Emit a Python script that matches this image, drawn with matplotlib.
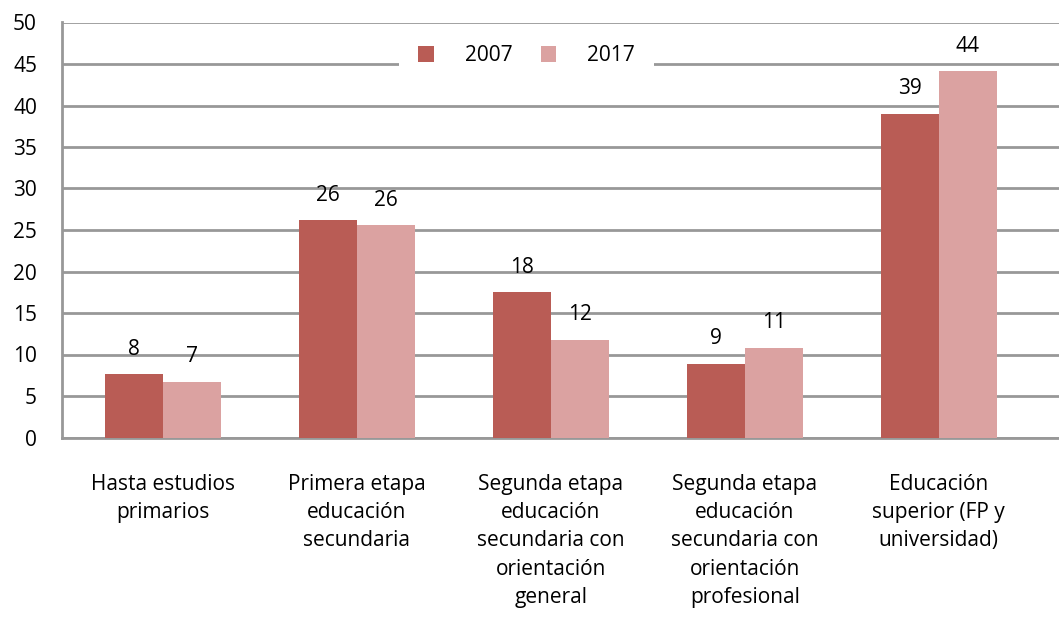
import matplotlib
matplotlib.use("Agg")
import matplotlib.pyplot as plt
import numpy as np

categories = [
    "Hasta estudios\nprimarios",
    "Primera etapa\neducación\nsecundaria",
    "Segunda etapa\neducación\nsecundaria con\norientación\ngeneral",
    "Segunda etapa\neducación\nsecundaria con\norientación\nprofesional",
    "Educación\nsuperior (FP y\nuniversidad)",
]
series_names = ["2007", "2017"]
values_2007 = [7.6, 26.2, 17.5, 8.9, 39.0]
values_2017 = [6.7, 25.6, 11.8, 10.8, 44.1]
labels_2007 = ["8", "26", "18", "9", "39"]
labels_2017 = ["7", "26", "12", "11", "44"]
yticks = [0, 5, 10, 15, 20, 25, 30, 35, 40, 45, 50]

c2007 = "#B95C55"
c2017 = "#DBA2A1"
grid_c = "#989898"

plt.rcParams['font.family'] = ['Open Sans', 'DejaVu Sans']
FS = 15

W, H = 1059, 618
fig = plt.figure(figsize=(W / 100, H / 100), dpi=100)
ax = fig.add_axes([62 / W, 1 - 437.5 / H, (1059 - 62) / W, (437.5 - 22.5) / H])

x = np.arange(len(categories))
bw = 0.3
b1 = ax.bar(x - bw / 2, values_2007, bw, color=c2007, label=series_names[0], zorder=3)
b2 = ax.bar(x + bw / 2, values_2017, bw, color=c2017, label=series_names[1], zorder=3)

for rects, labs in ((b1, labels_2007), (b2, labels_2017)):
    for r, lab in zip(rects, labs):
        ax.annotate(lab, (r.get_x() + r.get_width() / 2, r.get_height()),
                    xytext=(0, 14), textcoords="offset points",
                    ha="center", va="baseline", fontsize=FS, color="black")

ax.set_ylim(0, 50)
ax.set_xlim(-0.52, 4.62)
ax.set_yticks(yticks)
ax.set_yticklabels([str(v) for v in yticks], fontsize=FS)
ax.set_xticks(x)
ax.set_xticklabels(categories, fontsize=FS, linespacing=1.46)
ax.tick_params(axis='both', length=0)
ax.tick_params(axis='y', pad=18)
ax.tick_params(axis='x', pad=26)

ax.yaxis.grid(True, color=grid_c, linewidth=2, zorder=0)
ax.set_axisbelow(True)
for s in ['top', 'right']:
    ax.spines[s].set_visible(False)
for s in ['left', 'bottom']:
    ax.spines[s].set_color(grid_c)
    ax.spines[s].set_linewidth(2)

leg = ax.legend(loc='center', bbox_to_anchor=(0.466, 0.92), ncol=2,
                frameon=True, fancybox=False, edgecolor='none', framealpha=1,
                fontsize=FS, handlelength=0.75, handleheight=0.75,
                columnspacing=1.35, handletextpad=1.5, borderpad=0.9)
leg.get_frame().set_linewidth(0)
leg.set_zorder(5)

fig.savefig("out.png", dpi=100)
